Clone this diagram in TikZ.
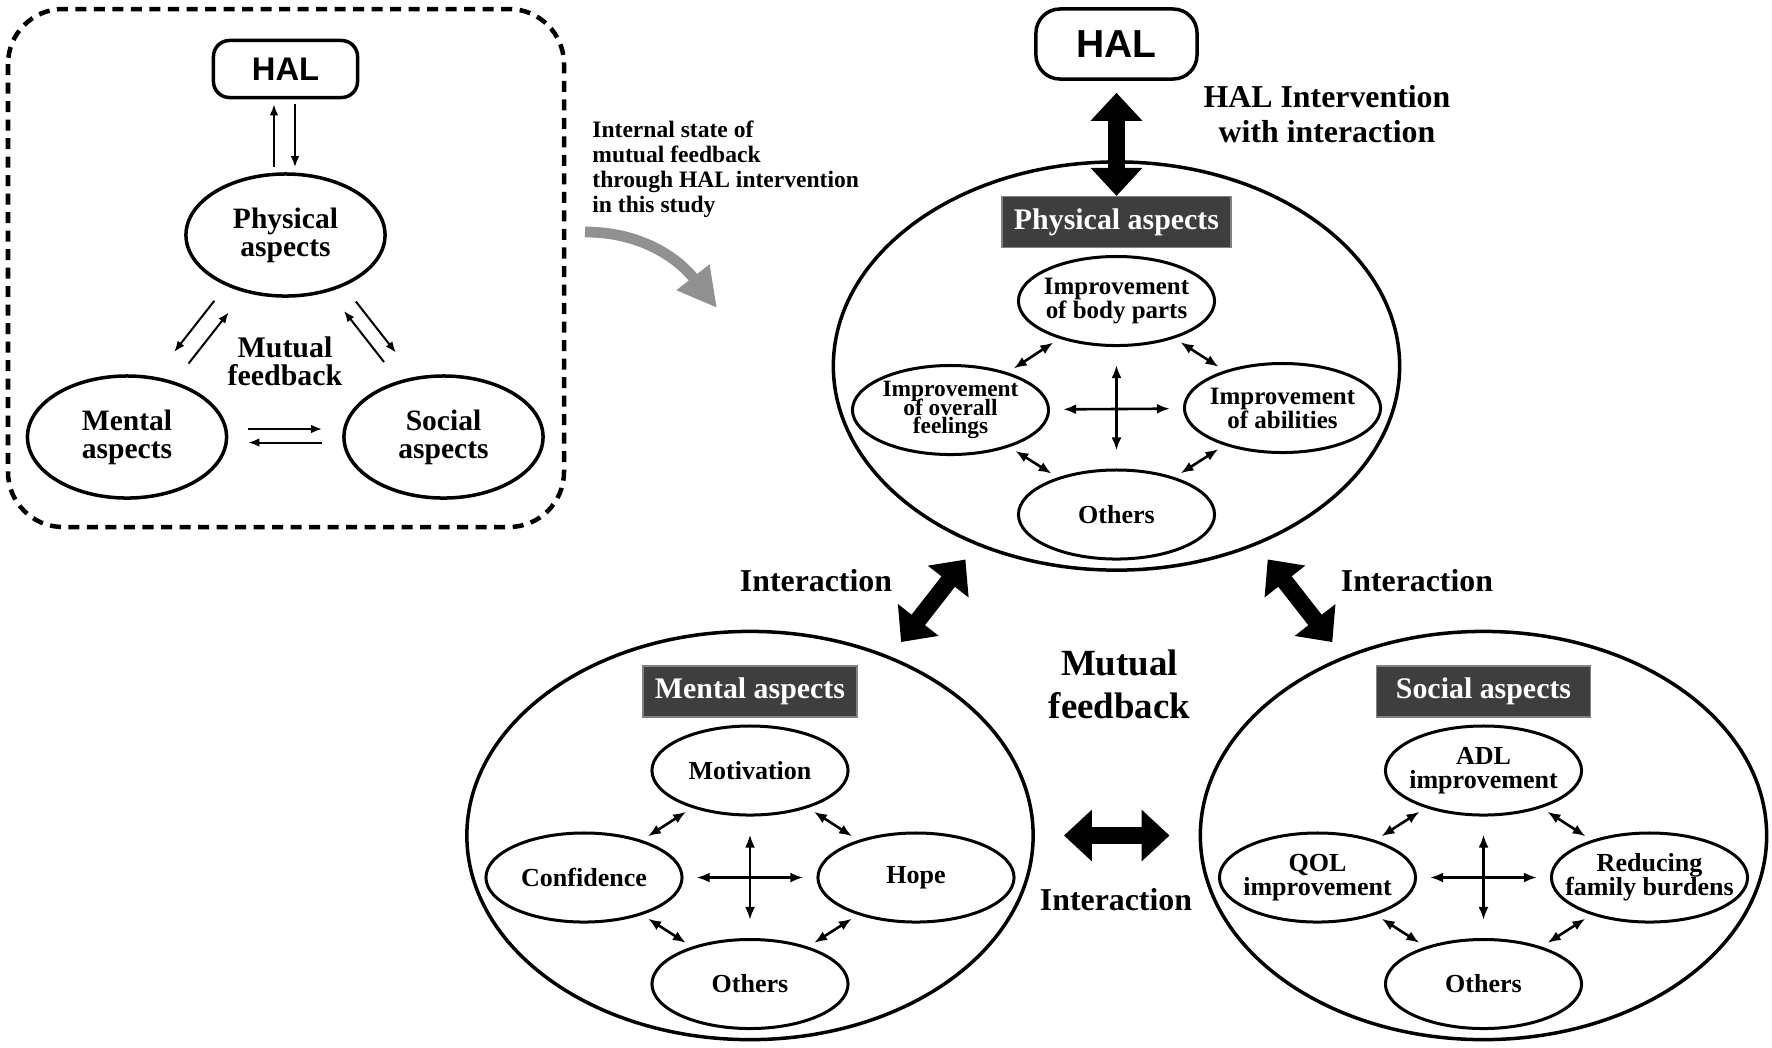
\documentclass[tikz,border=0pt]{standalone}
\usepackage{fontspec}
\setmainfont{Liberation Serif}
\newfontfamily\halfont{Liberation Sans}
\usepackage{xcolor}
\usepackage{tikz}
\usetikzlibrary{shapes,arrows.meta,positioning,calc}

\definecolor{boxfill}{RGB}{62,62,62}
\definecolor{boxline}{RGB}{130,130,130}
\definecolor{curvegray}{RGB}{145,145,145}
\lineskiplimit=-20pt

\tikzset{
    smalloval/.style={draw, ellipse, line width=0.035cm, minimum width=1.99cm, minimum height=1.22cm, inner sep=0pt, align=center, font=\bfseries\fontsize{8.4}{8}\selectfont},
    bigoval/.style={draw, ellipse, line width=0.035cm, minimum width=5.66cm, minimum height=4.08cm},
    inneroval/.style={draw, ellipse, line width=0.03cm, minimum width=1.96cm, minimum height=0.89cm, inner xsep=-0.3cm, inner ysep=-0.1cm, align=center, font=\bfseries\fontsize{7.4}{6.8}\selectfont},
    aspectbox/.style={draw=boxline, fill=boxfill, text=white, line width=0.015cm, minimum width=2.14cm, minimum height=0.47cm, inner xsep=0.12cm, font=\bfseries\fontsize{8.5}{9}\selectfont},
    halbox/.style={draw, rectangle, line width=0.035cm},
    biglbl/.style={font=\bfseries\fontsize{9.05}{10}\selectfont, align=center},
    thinarrow/.style={->, line width=0.02cm, shorten >=0.24cm, shorten <=0.24cm},
    dblarrow/.style={{Latex[length=0.13cm,width=0.1cm]}-{Latex[length=0.13cm,width=0.1cm]}, line width=0.026cm},
    bigarrow/.style={line width=0.17cm, {Triangle[length=0.28cm,width=0.5cm]}-{Triangle[length=0.28cm,width=0.5cm]}}
}

\begin{document}
\begin{tikzpicture}[x=0.01cm, y=-0.01cm, >={Latex[length=0.11cm,width=0.085cm]}]
    \useasboundingbox (0,0) rectangle (1772,1047);

    % before: mutual feedback inside the dashed frame
    \draw[line width=0.045cm, dash pattern=on 0.11cm off 0.075cm, rounded corners=0.55cm] (8,9) rectangle (564,527);

    \node (hal1) [halbox, minimum width=1.44cm, minimum height=0.57cm, rounded corners=0.16cm, font=\halfont\bfseries\fontsize{9.3}{10}\selectfont] at (285.5,69) {HAL};
    \node (physical) [smalloval] at (285.5,235) {Physical\\aspects};
    \node (mental) [smalloval] at (127,437) {Mental\\aspects};
    \node (social) [smalloval] at (443.5,437) {Social\\aspects};
    \node (mf1) [align=center, font=\bfseries\fontsize{8.5}{7.85}\selectfont] at (285,361) {Mutual\\feedback};

    \draw[->, line width=0.02cm, shorten >=0.05cm, shorten <=0.05cm] ([xshift=-0.115cm]physical.north) -- ([xshift=-0.115cm]hal1.south);
    \draw[->, line width=0.02cm, shorten >=0.05cm, shorten <=0.05cm] ([xshift=0.095cm]hal1.south) -- ([xshift=0.095cm]physical.north);

    \draw[thinarrow, transform canvas={shift={(-12,-9.6)}}] (physical) -- (mental);
    \draw[thinarrow, transform canvas={shift={(2.4,1.9)}}] (mental) -- (physical);
    \draw[thinarrow, transform canvas={shift={(11.4,-8.9)}}] (physical) -- (social);
    \draw[thinarrow, transform canvas={shift={(-0.5,0.4)}}] (social) -- (physical);
    \draw[thinarrow, shorten >=0.2cm, shorten <=0.2cm, transform canvas={shift={(0,-8)}}] (mental) -- (social);
    \draw[thinarrow, shorten >=0.2cm, shorten <=0.2cm, transform canvas={shift={(0,5.5)}}] (social) -- (mental);

    % note and gray curved arrow
    \node (note) [anchor=north west, align=left, inner sep=0pt, font=\bfseries\fontsize{6.7}{7.1}\selectfont] at (591.7,120.5) {Internal state of\\mutual feedback\\through HAL intervention\\in this study};
    \coordinate (g_start) at (585,232);
    \coordinate (g_end) at (717,308);
    \draw[curvegray, line width=0.107cm, -{Triangle[length=0.39cm,width=0.39cm]}] (g_start) to[out=0, in=128] (g_end);

    % HAL intervention with interaction
    \node (hal2) [halbox, minimum width=1.61cm, minimum height=0.70cm, rounded corners=0.24cm, font=\halfont\bfseries\fontsize{11.1}{12}\selectfont] at (1116.5,44) {HAL};
    \node (hal_int) [biglbl] at (1327,114) {HAL Intervention\\with interaction};

    \node (phy) [bigoval] at (1116.5,366) {};
    \node (men) [bigoval] at (750,835.5) {};
    \node (soc) [bigoval] at (1483.5,835.5) {};

    \node (phy_box) [aspectbox] at ($(phy)+(0,-144)$) {Physical aspects};
    \node (phy_t) [inneroval, font=\bfseries\fontsize{7.1}{6.8}\selectfont] at ($(phy)+(0,-65)$) {Improvement\\of body parts};
    \node (phy_l) [inneroval, font=\bfseries\fontsize{6.65}{5.2}\selectfont] at ($(phy)+(-166,44)$) {Improvement\\of overall\\feelings};
    \node (phy_r) [inneroval, font=\bfseries\fontsize{7.1}{6.8}\selectfont] at ($(phy)+(166,42)$) {Improvement\\of abilities};
    \node (phy_b) [inneroval] at ($(phy)+(0,148.5)$) {Others};

    \node (men_box) [aspectbox] at ($(men)+(0,-144)$) {Mental aspects};
    \node (men_t) [inneroval] at ($(men)+(0,-65)$) {Motivation};
    \node (men_l) [inneroval] at ($(men)+(-166,42)$) {Confidence};
    \node (men_r) [inneroval] at ($(men)+(166,42)$) {Hope};
    \node (men_b) [inneroval] at ($(men)+(0,148.5)$) {Others};

    \node (soc_box) [aspectbox] at ($(soc)+(0,-144)$) {Social aspects};
    \node (soc_t) [inneroval] at ($(soc)+(0,-65)$) {ADL\\improvement};
    \node (soc_l) [inneroval] at ($(soc)+(-166,42)$) {QOL\\improvement};
    \node (soc_r) [inneroval] at ($(soc)+(166,42)$) {Reducing\\family burdens};
    \node (soc_b) [inneroval] at ($(soc)+(0,148.5)$) {Others};

    \foreach \c in {phy,men,soc} {
        \draw[dblarrow, shorten >=0.07cm, shorten <=0.07cm] (\c_t) -- (\c_l);
        \draw[dblarrow, shorten >=0.07cm, shorten <=0.07cm] (\c_t) -- (\c_r);
        \draw[dblarrow, shorten >=0.07cm, shorten <=0.07cm] (\c_l) -- (\c_b);
        \draw[dblarrow, shorten >=0.07cm, shorten <=0.07cm] (\c_r) -- (\c_b);
        \draw[dblarrow, shorten >=0.18cm, shorten <=0.18cm] (\c_t) -- (\c_b);
        \draw[dblarrow, shorten >=0.13cm, shorten <=0.13cm] (\c_l) -- (\c_r);
    }

    \draw[bigarrow, shorten <=0.12cm] (hal2) -- (phy_box);
    \draw[bigarrow, shorten <=0.18cm, shorten >=0.18cm] (men) -- (phy);
    \draw[bigarrow, shorten <=0.18cm, shorten >=0.18cm] (soc) -- (phy);
    \draw[bigarrow, shorten <=0.29cm, shorten >=0.29cm] (men) -- (soc);

    \node (int_l) [biglbl, anchor=base] at (816,591.7) {Interaction};
    \node (int_r) [biglbl, anchor=base] at (1417,591.7) {Interaction};
    \node (int_b) [biglbl, anchor=base] at (1116,910) {Interaction};
    \node (mf2) [align=center, font=\bfseries\fontsize{10.5}{12.2}\selectfont] at (1119.5,684) {Mutual\\feedback};
\end{tikzpicture}
\end{document}
